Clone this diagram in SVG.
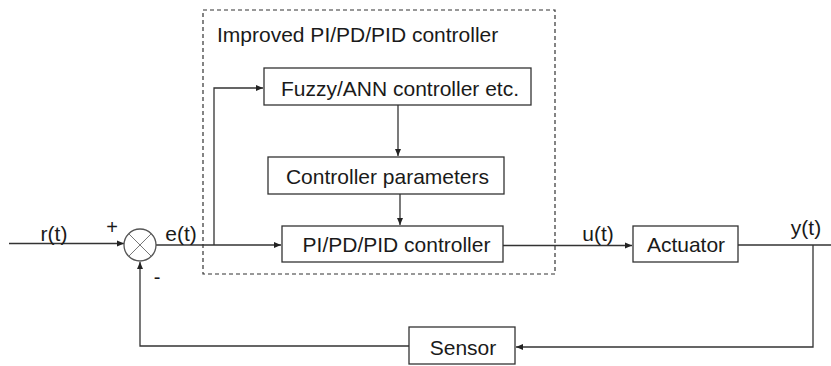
<svg xmlns="http://www.w3.org/2000/svg" width="831" height="366" viewBox="0 0 831 366">
<style>
.box{fill:#fff;stroke:#333;stroke-width:1.3}
.t{font-family:"Liberation Sans",Arial,sans-serif;font-size:21px;fill:#1a1a1a}
.c{text-anchor:middle}
.ln{fill:none;stroke:#333;stroke-width:1.3}
</style>
<defs>
<marker id="ah" markerWidth="8" markerHeight="8" refX="7" refY="4" orient="auto" markerUnits="userSpaceOnUse">
<path d="M0,1 L7,4 L0,7 Z" fill="#222"/>
</marker>
</defs>
<rect x="0" y="0" width="831" height="366" fill="#fff"/>
<g id="improved-group">
<rect x="203" y="10" width="352" height="264" fill="none" stroke="#333" stroke-width="1.2" stroke-dasharray="4,3"/>
<text class="t" x="217" y="42">Improved PI/PD/PID controller</text>
</g>
<g id="connectors">
<line class="ln" x1="9" y1="243.5" x2="124" y2="243.5" marker-end="url(#ah)"/>
<line class="ln" x1="156" y1="245" x2="281" y2="245" marker-end="url(#ah)"/>
<polyline class="ln" points="214,245 214,88 263,88" marker-end="url(#ah)"/>
<line class="ln" x1="398" y1="105" x2="398" y2="156" marker-end="url(#ah)"/>
<line class="ln" x1="400" y1="194" x2="400" y2="225" marker-end="url(#ah)"/>
<line class="ln" x1="503" y1="245.5" x2="632" y2="245.5" marker-end="url(#ah)"/>
<line class="ln" x1="738" y1="245" x2="831" y2="245"/>
<polyline class="ln" points="813,245 813,347 516,347" marker-end="url(#ah)"/>
<polyline class="ln" points="409,346 140,346 140,262" marker-end="url(#ah)"/>
</g>
<g id="sum">
<circle cx="140" cy="245" r="16" fill="#fff" stroke="#555" stroke-width="1.3"/>
<line x1="128.7" y1="233.7" x2="151.3" y2="256.3" stroke="#777" stroke-width="1"/>
<line x1="151.3" y1="233.7" x2="128.7" y2="256.3" stroke="#777" stroke-width="1"/>
<text class="t c" x="112" y="234" style="font-size:20px">+</text>
<text class="t c" x="157" y="284" style="font-size:20px">-</text>
</g>
<g id="labels">
<text class="t c" x="54" y="241">r(t)</text>
<text class="t c" x="181" y="241">e(t)</text>
<text class="t c" x="598" y="241">u(t)</text>
<text class="t c" x="806" y="235">y(t)</text>
</g>
<g id="fuzzy">
<rect class="box" x="264" y="68" width="267" height="37"/>
<text class="t c" x="400" y="96">Fuzzy/ANN controller etc.</text>
</g>
<g id="params">
<rect class="box" x="268" y="157" width="236" height="37"/>
<text class="t c" x="387.5" y="184">Controller parameters</text>
</g>
<g id="pid">
<rect class="box" x="282" y="226" width="221" height="36"/>
<text class="t c" x="396.5" y="252">PI/PD/PID controller</text>
</g>
<g id="actuator">
<rect class="box" x="633" y="226" width="105" height="36"/>
<text class="t c" x="686" y="252">Actuator</text>
</g>
<g id="sensor">
<rect class="box" x="409" y="327" width="106" height="37"/>
<text class="t c" x="463" y="355">Sensor</text>
</g>
</svg>
